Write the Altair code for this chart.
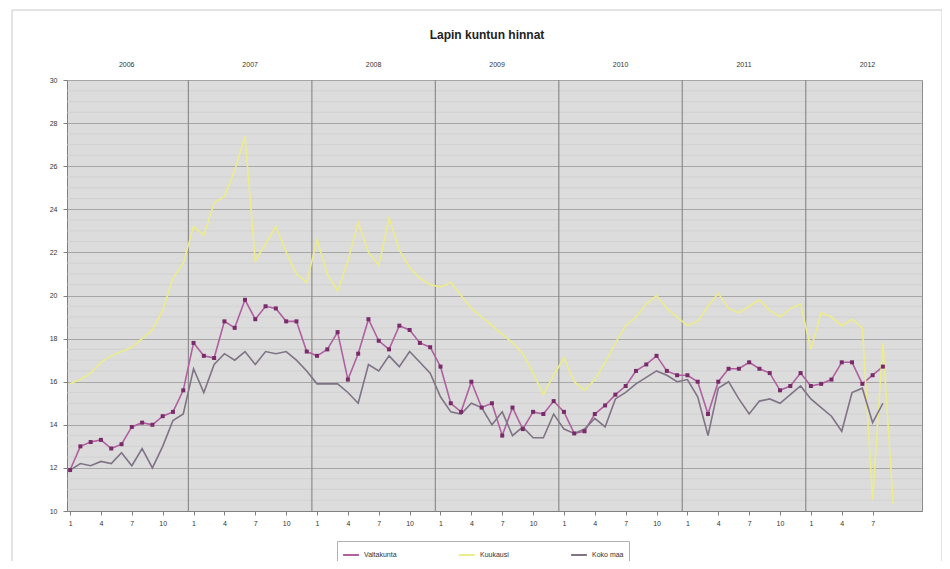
import altair as alt
import pandas as pd

title_text = "Lapin kuntun hinnat"
years = [2006, 2007, 2008, 2009, 2010, 2011, 2012]
series_names = ["Valtakunta", "Kuukausi", "Koko maa"]
series_colors = ["#b060a0", "#ecec8a", "#7f7385"]

# monthly values, index 0 = Jan 2006
magenta = [11.9, 13.0, 13.2, 13.3, 12.9, 13.1, 13.9, 14.1, 14.0, 14.4, 14.6, 15.6,
           17.8, 17.2, 17.1, 18.8, 18.5, 19.8, 18.9, 19.5, 19.4, 18.8, 18.8, 17.4,
           17.2, 17.5, 18.3, 16.1, 17.3, 18.9, 17.9, 17.5, 18.6, 18.4, 17.8, 17.6,
           16.7, 15.0, 14.6, 16.0, 14.8, 15.0, 13.5, 14.8, 13.8, 14.6, 14.5, 15.1,
           14.6, 13.6, 13.7, 14.5, 14.9, 15.4, 15.8, 16.5, 16.8, 17.2, 16.5, 16.3,
           16.3, 16.0, 14.5, 16.0, 16.6, 16.6, 16.9, 16.6, 16.4, 15.6, 15.8, 16.4,
           15.8, 15.9, 16.1, 16.9, 16.9, 15.9, 16.3, 16.7]
grey = [11.9, 12.2, 12.1, 12.3, 12.2, 12.7, 12.1, 12.9, 12.0, 13.0, 14.2, 14.5,
        16.6, 15.5, 16.8, 17.3, 17.0, 17.4, 16.8, 17.4, 17.3, 17.4, 17.0, 16.5,
        15.9, 15.9, 15.9, 15.5, 15.0, 16.8, 16.5, 17.2, 16.7, 17.4, 16.9, 16.4,
        15.3, 14.6, 14.5, 15.0, 14.8, 14.0, 14.6, 13.5, 13.9, 13.4, 13.4, 14.5,
        13.8, 13.6, 13.8, 14.3, 13.9, 15.2, 15.5, 15.9, 16.2, 16.5, 16.3, 16.0,
        16.1, 15.3, 13.5, 15.7, 16.0, 15.2, 14.5, 15.1, 15.2, 15.0, 15.4, 15.8,
        15.2, 14.8, 14.4, 13.7, 15.5, 15.7, 14.1, 15.0]
yellow = [15.9, 16.1, 16.4, 16.9, 17.2, 17.4, 17.6, 18.0, 18.4, 19.3, 20.8, 21.5,
          23.2, 22.8, 24.3, 24.6, 25.8, 27.4, 21.6, 22.4, 23.2, 22.0, 21.0, 20.6,
          22.6, 21.0, 20.2, 21.6, 23.4, 22.0, 21.4, 23.6, 22.1, 21.3, 20.8, 20.5,
          20.4, 20.6, 20.0, 19.4, 19.0, 18.6, 18.2, 17.8, 17.3, 16.4, 15.4, 16.3,
          17.1, 16.0, 15.6, 16.1, 16.9, 17.8, 18.6, 19.0, 19.6, 20.0, 19.4, 19.0,
          18.6, 18.8, 19.5, 20.1, 19.4, 19.2, 19.5, 19.8, 19.3, 19.0, 19.4, 19.6,
          17.5, 19.2, 19.0, 18.6, 18.9, 18.5, 10.5, 17.8, 10.3]

month_ticks = list(range(0, 80, 3))
y_ticks = list(range(10, 31, 2))
minor_y = [v / 2 for v in range(21, 60) if (v / 2) % 2 != 0]
year_seps = [12 * k - 0.5 for k in range(1, 7)]

rows = []
for name, vals in zip(series_names, [magenta, yellow, grey]):
    for i, v in enumerate(vals):
        rows.append({"idx": i, "value": v, "series": name})
df = pd.DataFrame(rows)

W, H = 855, 431


def xenc():
    return alt.X("idx:Q",
                 scale=alt.Scale(domain=[-0.3, 82.8], nice=False, zero=False),
                 axis=alt.Axis(values=month_ticks, labelExpr="(datum.value % 12) + 1",
                               title=None, grid=False, domainColor="#808080",
                               tickColor="#808080", tickSize=4, labelFontSize=7,
                               labelColor="#333333", labelPadding=4,
                               labelFont="Liberation Sans"))


def yenc():
    return alt.Y("value:Q",
                 scale=alt.Scale(domain=[10, 30], nice=False, zero=False),
                 axis=alt.Axis(values=y_ticks, title=None, grid=True,
                               gridColor="#a6a6a6", gridWidth=1,
                               domainColor="#808080", tickColor="#808080",
                               tickSize=4, labelFontSize=7, labelColor="#333333",
                               labelPadding=6, labelFont="Liberation Sans"))


color = alt.Color("series:N",
                  scale=alt.Scale(domain=series_names, range=series_colors),
                  sort=series_names,
                  legend=alt.Legend(title=None, orient="none", legendX=270,
                                    legendY=461, direction="horizontal",
                                    symbolType="stroke", symbolStrokeWidth=2,
                                    symbolSize=250, labelFontSize=7,
                                    labelFont="Liberation Sans",
                                    labelColor="#333333", strokeColor="#b0b0b0",
                                    padding=5, columnPadding=58))

minor_df = pd.DataFrame({"value": minor_y})
minor = alt.Chart(minor_df).mark_rule(color="#cdcdcd", strokeWidth=0.7).encode(y=yenc())

sep_df = pd.DataFrame({"idx": year_seps})
seps = alt.Chart(sep_df).mark_rule(color="#8c8c8c", strokeWidth=1.2).encode(x=xenc())

frame = alt.Chart(pd.DataFrame({"idx": [0]})).mark_rect(
    fill=None, stroke="#c8c8c8", strokeWidth=1).encode(
    x=alt.value(-55), x2=alt.value(875), y=alt.value(-70), y2=alt.value(485))

title_df = pd.DataFrame({"label": [title_text]})
title = alt.Chart(title_df).mark_text(fontSize=12, fontWeight="bold", color="#222222",
                                      font="Liberation Sans").encode(
    x=alt.value(420), y=alt.value(-45), text="label:N")

lines = alt.Chart(df).mark_line(strokeWidth=1.6).encode(
    x=xenc(), y=yenc(), color=color,
    order=alt.Order("idx:Q"))

points = alt.Chart(df[df.series == series_names[0]]).mark_point(
    shape="square", filled=True, size=16, color="#7a2c6a", opacity=1).encode(
    x=xenc(), y=yenc())

year_df = pd.DataFrame({"idx": [12 * k + 5.5 for k in range(len(years))],
                        "label": [str(y) for y in years]})
year_text = alt.Chart(year_df).mark_text(fontSize=7, color="#333333",
                                         font="Liberation Sans").encode(
    x=xenc(), y=alt.value(-15), text="label:N")

chart = alt.layer(frame, minor, seps, lines, points, year_text, title).properties(
    width=W, height=H,
    autosize=alt.AutoSizeParams(type="none"),
    padding={"left": 59, "top": 72, "right": 20, "bottom": 50},
).configure_view(fill="#dcdcdc", stroke="#8c8c8c", strokeWidth=1)

chart.save("out.html", embed_options={"renderer": "svg", "actions": False})
